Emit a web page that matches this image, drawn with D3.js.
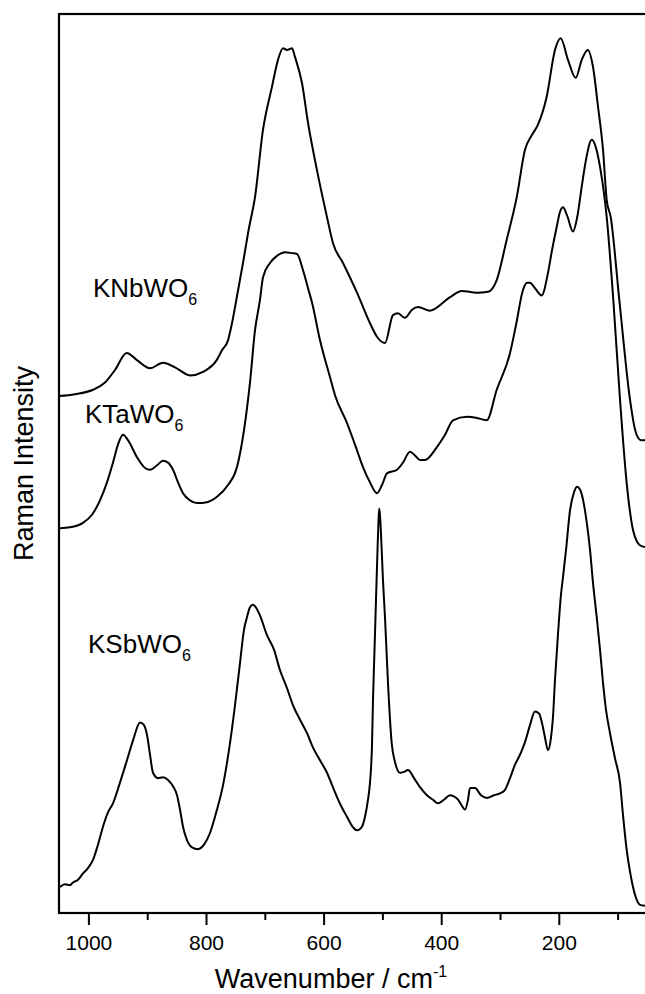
<!DOCTYPE html>
<html>
<head>
<meta charset="utf-8">
<script src="https://cdn.jsdelivr.net/npm/d3@7/dist/d3.min.js"></script>
<style>
  html, body { margin: 0; padding: 0; background: #fff; }
  svg { display: block; }
  text { font-family: "Liberation Sans", Arial, sans-serif; fill: #000; }
</style>
</head>
<body>
<svg id="chart" width="645" height="994"></svg>
<script>
// Raman spectra of KMWO6 (M = Nb, Ta, Sb), stacked with vertical offsets (arbitrary units)

const nbWavenumber = [1050,1022.8,992.2,971.8,954.8,934.9,917.4,895.2,873.1,852.7,827.2,805.1,781.8,772.8,762.6,755.8,747.3,737.1,726.9,716.7,703.1,687.8,677.6,669.0,662.2,653.7,648.6,636.7,626.5,611.2,594.2,584.0,567.0,543.2,521.1,509.2,495.6,482.0,473.5,461.6,449.6,439.4,419.0,385.0,365.1,339.6,320.4,305.6,288.6,271.6,257.5,246.1,235.4,220.6,206.5,196.8,184.4,171.2,161.0,150.8,141.8,133.3,124.8,118.5,111.7,97.1,78.9,72.1,67.0,60.2,53.4];
const nbIntensity  = [57.5,57.7,58.2,59.0,60.4,62.3,61.5,60.6,61.2,60.7,59.8,60.2,61.5,62.6,63.7,65.6,68.6,72.3,76.2,79.6,87.1,91.9,94.9,96.2,96.0,96.2,95.2,92.3,87.9,82.6,77.4,74.5,72.3,69.0,65.6,64.1,63.4,66.5,66.7,66.2,67.1,67.4,67.0,68.5,69.2,69.0,69.1,70.4,74.9,79.6,84.9,86.5,87.7,90.8,96.0,97.3,94.9,92.9,94.9,96.0,94.1,89.7,84.9,79.3,77.4,68.2,57.1,54.3,53.1,52.6,52.6];

const taWavenumber = [1048.3,1031.3,1009.2,993.9,980.3,968.4,958.2,949.7,941.2,932.7,917.4,903.7,895.2,883.3,873.1,864.6,856.1,847.6,839.1,827.2,815.3,798.3,781.3,762.6,747.3,735.4,725.2,716.7,708.2,703.1,691.2,679.3,665.6,653.7,645.2,635.0,626.5,619.7,606.1,589.1,580.6,560.2,546.6,533.0,521.1,509.2,500.7,492.2,475.2,465.0,453.1,444.6,436.1,427.5,407.6,393.5,379.9,356.6,340.8,322.6,305.6,282.9,272.8,260.9,254.1,249.0,240.5,229.1,218.4,211.6,203.6,197.9,192.8,186.0,175.8,169.0,161.0,153.7,144.0,136.7,129.9,118.5,107.3,95.9,84.5,73.8,67.0,61.9,53.4];
const taIntensity  = [42.8,42.9,43.4,44.3,45.9,47.9,50.1,52.1,53.2,52.6,50.7,49.5,49.3,49.8,50.3,50.1,49.3,47.9,46.7,45.9,45.6,45.7,46.3,47.6,49.6,53.7,59.0,64.8,68.2,70.7,72.3,73.1,73.5,73.4,73.3,71.5,69.5,67.9,63.7,59.6,57.6,54.5,52.1,49.6,47.9,46.7,47.6,48.9,49.3,50.1,51.3,50.9,50.4,50.4,51.8,53.2,54.8,55.2,55.1,54.8,58.2,62.3,65.4,69.3,70.1,70.1,69.5,68.7,71.2,73.7,76.3,78.0,78.5,77.6,75.8,77.3,80.8,83.8,86.0,85.1,83.0,77.4,68.2,57.1,47.8,42.6,41.3,40.9,40.7];

const sbWavenumber = [1048.3,1039.8,1031.3,1026.2,1017.7,1009.2,1000.7,992.2,983.7,975.2,966.7,958.2,946.3,934.4,924.1,912.2,905.4,900.3,895.2,890.1,881.6,873.1,864.6,856.1,849.3,844.2,839.1,832.3,823.8,813.6,803.4,793.2,781.3,771.1,759.2,750.7,742.2,735.4,730.3,725.2,720.1,713.3,708.2,696.3,684.4,674.1,662.2,652.0,640.1,628.2,618.0,606.1,594.2,589.1,582.3,577.2,568.7,560.2,551.7,543.2,534.7,529.6,524.5,521.1,517.7,516.0,513.4,510.9,508.3,506.6,505.3,503.6,501.2,499.0,495.6,490.5,484.2,478.6,470.1,463.3,456.5,446.2,436.1,424.2,414.0,405.5,395.3,385.0,376.5,371.4,364.6,359.5,354.4,351.0,342.5,332.3,322.1,310.2,300.0,291.5,283.0,274.5,266.0,257.5,249.0,240.5,233.6,228.5,223.4,218.4,213.3,209.9,206.5,201.3,196.3,192.8,187.7,180.9,174.1,169.0,163.9,157.1,152.0,146.9,141.8,135.5,129.9,124.8,119.7,112.9,104.4,95.9,90.8,84.5,78.9,73.8,67.0,61.9,53.4];
const sbIntensity  = [2.9,3.2,3.1,3.4,3.7,4.4,5.0,5.9,7.6,9.6,11.2,12.2,14.5,17.0,19.2,21.2,20.9,19.8,17.6,15.6,15.0,15.1,14.8,14.1,13.1,11.5,9.6,8.1,7.3,7.1,7.6,8.9,11.5,14.2,18.9,23.1,27.8,31.5,32.9,34.0,34.3,33.8,33.1,30.9,29.3,27.0,25.0,23.1,21.5,20.0,18.4,17.0,15.6,14.8,13.7,12.9,11.7,10.7,9.7,9.2,9.6,10.7,12.6,14.5,18.7,23.7,29.3,34.8,40.4,43.7,45.0,43.7,40.4,37.0,32.9,25.6,18.9,16.8,15.6,15.7,15.9,15.0,14.0,13.1,12.6,12.2,12.6,13.1,12.9,12.6,11.9,11.5,12.6,13.9,13.9,13.1,12.8,13.1,13.3,13.7,15.0,16.5,17.6,19.0,20.9,22.4,22.2,21.1,19.5,18.1,19.5,21.8,25.9,31.1,35.4,37.4,40.4,44.8,46.8,47.4,47.1,45.4,43.2,40.4,36.7,32.9,29.3,25.6,22.6,20.0,17.2,14.5,10.9,7.0,4.6,2.9,1.4,0.9,0.8];

const seriesNames = ["KNbWO", "KTaWO", "KSbWO"];
const xTicks = [1000, 800, 600, 400, 200];
const xMinorTicks = [900, 700, 500, 300, 100];

const svg = d3.select("#chart");
const margin = { left: 59, top: 14, bottom: 913, right: 647 };

const x = d3.scaleLinear().domain([1050, 50]).range([margin.left, margin.right]);
const y = d3.scaleLinear().domain([0, 100]).range([margin.bottom, margin.top]);

// frame
svg.append("rect")
  .attr("x", margin.left).attr("y", margin.top)
  .attr("width", margin.right - margin.left)
  .attr("height", margin.bottom - margin.top)
  .attr("fill", "none").attr("stroke", "#000").attr("stroke-width", 2.2);

// spectra
const line = d3.line()
  .x(d => x(d[0]))
  .y(d => y(d[1]))
  .curve(d3.curveMonotoneX);

const spectra = [
  [nbWavenumber, nbIntensity],
  [taWavenumber, taIntensity],
  [sbWavenumber, sbIntensity]
];

spectra.forEach(([wn, inten]) => {
  const pts = wn.map((w, i) => [w, inten[i]]);
  svg.append("path")
    .datum(pts)
    .attr("d", line)
    .attr("fill", "none")
    .attr("stroke", "#000")
    .attr("stroke-width", 2)
    .attr("stroke-linejoin", "round");
});

// x axis
const xAxis = d3.axisBottom(x)
  .tickValues(xTicks)
  .tickSize(12)
  .tickPadding(10)
  .tickFormat(d3.format("d"));

const gx = svg.append("g")
  .attr("transform", `translate(0,${margin.bottom})`)
  .call(xAxis);
gx.select(".domain").remove();
gx.selectAll(".tick line").attr("stroke", "#000").attr("stroke-width", 2);
gx.selectAll(".tick text")
  .style("font-size", "21px")
  .style("font-family", "'Liberation Sans', Arial, sans-serif")
  .attr("fill", "#000");

const gxm = svg.append("g")
  .attr("transform", `translate(0,${margin.bottom})`)
  .call(d3.axisBottom(x).tickValues(xMinorTicks).tickSize(7).tickFormat(""));
gxm.select(".domain").remove();
gxm.selectAll(".tick line").attr("stroke", "#000").attr("stroke-width", 2);

// axis titles
const xt = svg.append("text")
  .attr("x", 331).attr("y", 988)
  .attr("text-anchor", "middle")
  .style("font-size", "27px");
xt.append("tspan").text("Wavenumber / cm");
xt.append("tspan").attr("dy", -11).style("font-size", "16px").text("-1");

svg.append("text")
  .attr("transform", `translate(33,${(margin.top + margin.bottom) / 2}) rotate(-90)`)
  .attr("text-anchor", "middle")
  .style("font-size", "27px")
  .text("Raman Intensity");

// series labels with subscript 6
const labelPos = [[93, 297], [85, 423], [88, 653]];
seriesNames.forEach((name, i) => {
  const t = svg.append("text")
    .attr("x", labelPos[i][0]).attr("y", labelPos[i][1])
    .style("font-size", "26px");
  t.append("tspan").text(name);
  t.append("tspan").attr("dy", 8).style("font-size", "16px").text("6");
});
</script>
</body>
</html>
